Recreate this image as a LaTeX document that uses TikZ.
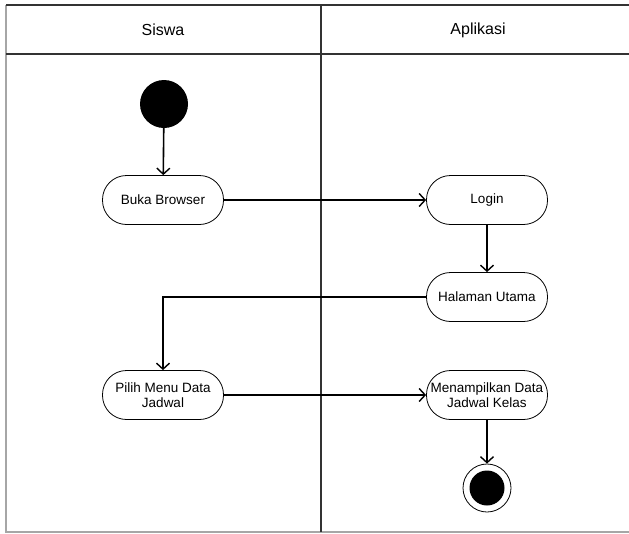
\documentclass[tikz,border=0pt]{standalone}
\usepackage{fontspec}
\setmainfont{Liberation Sans}
\usetikzlibrary{arrows.meta}
\tikzstyle{action}=[draw,line width=0.8pt,rectangle,rounded corners=24pt,
  minimum width=121pt,minimum height=49pt,inner sep=1pt,align=center,
  font=\fontsize{13.5}{15.5}\selectfont]
\tikzstyle{flow}=[line width=1.6pt,-{Straight Barb[length=6pt,width=13pt,line width=1.4pt]}]
\tikzstyle{lane}=[line width=1.4pt,draw=black!80]
\tikzstyle{edge}=[line width=1.4pt,draw=black!35]

\begin{document}
\begin{tikzpicture}[x=1pt,y=-1pt]
  \useasboundingbox (0,0) rectangle (629,533);

  % Swimlane frame.
  \draw[edge] (6,5) -- (6,532) -- (629,532);
  \draw[lane] (6,5) -- (629,5);
  \draw[lane] (6,54) -- (629,54);
  \draw[lane] (321,5) -- (321,532);

  % Lane titles.
  \node[font=\fontsize{16}{18}\selectfont] (siswa) at (163,30) {Siswa};
  \node[font=\fontsize{16}{18}\selectfont] (aplikasi) at (478,30) {Aplikasi};

  % Start and end.
  \node[circle,fill=black,minimum size=48pt,inner sep=0pt] (start) at (164,104) {};
  \node[circle,draw,line width=0.8pt,minimum size=48pt,inner sep=0pt] (stop) at (487,488) {};
  \node[circle,fill=black,minimum size=35pt,inner sep=0pt] at (stop) {};

  % Actions.
  \node[action] (browser) at (163,200) {Buka Browser};
  \node[action] (login) at (487,200) {Login};
  \node[action] (utama) at (487,297) {Halaman Utama};
  \node[action] (pilih) at (163,395) {Pilih Menu Data\\Jadwal};
  \node[action] (tampil) at (487,395) {Menampilkan Data\\Jadwal Kelas};

  % Control flow.
  \draw[flow] (start) -- (browser);
  \draw[flow] (browser) -- (login);
  \draw[flow] (login) -- (utama);
  \draw[flow] (utama.west) -| (pilih.north);
  \draw[flow] (pilih) -- (tampil);
  \draw[flow] (tampil) -- (stop);
\end{tikzpicture}
\end{document}
